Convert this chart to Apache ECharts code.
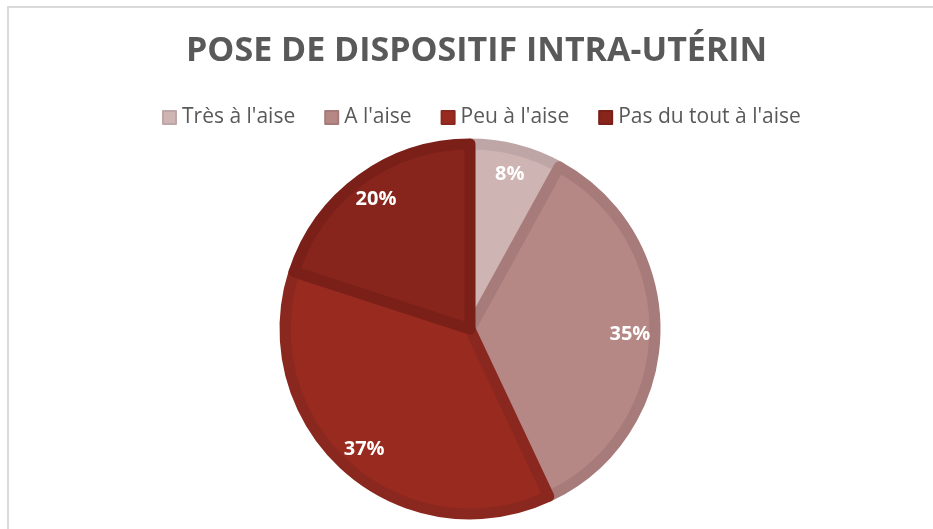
<!DOCTYPE html>
<html>
<head>
<meta charset="utf-8">
<script src="https://cdn.jsdelivr.net/npm/echarts@6/dist/echarts.min.js"></script>
<style>
  html, body { margin: 0; padding: 0; background: #fff; }
  #chart { width: 933px; height: 529px; }
</style>
</head>
<body>
<div id="chart"></div>
<script>
const categories = ['Très à l\'aise', 'A l\'aise', 'Peu à l\'aise', 'Pas du tout à l\'aise'];
const values = [8, 35, 37, 20];
const fillColors = ['#cfb4b4', '#b58886', '#982a20', '#87251c'];
const borderColors = ['#bfa6a6', '#a67b7a', '#8a281f', '#7a2018'];

const chart = echarts.init(document.getElementById('chart'));

const pieData = categories.map(function (name, i) {
    return {
        name: name,
        value: values[i],
        itemStyle: { color: fillColors[i], borderColor: borderColors[i] }
    };
});

// transparent ring used only to push the percent labels outward
const labelData = categories.map(function (name, i) {
    return { name: name, value: values[i] };
});

chart.setOption({
    animation: false,
    color: fillColors,
    title: {
        text: 'POSE DE DISPOSITIF INTRA-UTÉRIN',
        left: 181,
        top: 29,
        textStyle: {
            fontFamily: 'Open Sans',
            fontWeight: 'bold',
            fontSize: 34,
            color: '#595959'
        }
    },
    legend: {
        top: 102,
        left: 157,
        itemWidth: 13,
        itemHeight: 13,
        itemGap: 29,
        icon: 'rect',
        selectedMode: false,
        textStyle: {
            fontFamily: 'Open Sans',
            fontSize: 21,
            color: '#595959',
            padding: [0, 0, 0, 1]
        },
        data: categories
    },
    graphic: [{
        type: 'rect',
        shape: { x: 8, y: 7, width: 940, height: 540 },
        style: { fill: 'none', stroke: '#d9d9d9', lineWidth: 2 },
        silent: true
    }],
    series: [{
        type: 'pie',
        center: [470, 329],
        radius: [0, 185],
        startAngle: 90,
        clockwise: true,
        silent: true,
        itemStyle: { borderWidth: 11 },
        label: { show: false },
        labelLine: { show: false },
        data: pieData
    }, {
        type: 'pie',
        center: [470, 329],
        radius: [124, 190],
        startAngle: 90,
        clockwise: true,
        silent: true,
        itemStyle: { color: 'transparent', borderWidth: 0 },
        label: {
            show: true,
            position: 'inside',
            formatter: '{c}%',
            color: '#ffffff',
            fontFamily: 'Open Sans',
            fontWeight: 'bold',
            fontSize: 20
        },
        labelLine: { show: false },
        data: labelData
    }]
});
</script>
</body>
</html>
